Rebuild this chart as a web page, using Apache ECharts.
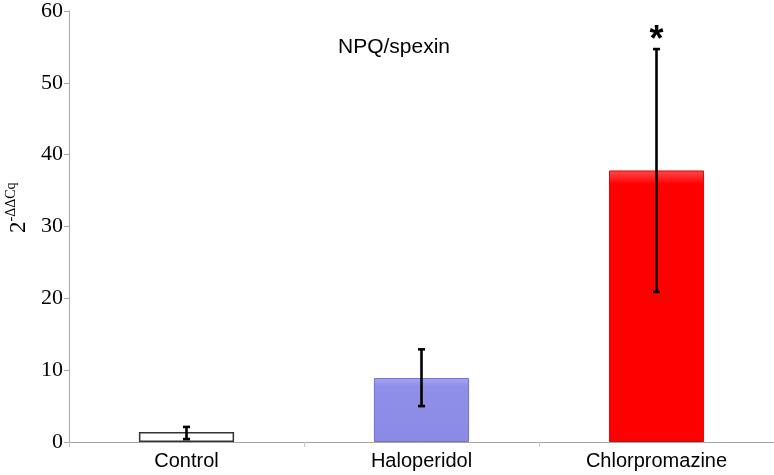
<!DOCTYPE html>
<html>
<head>
<meta charset="utf-8">
<script src="https://cdn.jsdelivr.net/npm/echarts@6/dist/echarts.min.js"></script>
<style>html,body{margin:0;padding:0;background:#fff;}#c{width:774px;height:475px;}</style>
</head>
<body>
<div id="c"></div>
<script>
const categories = ['Control', 'Haloperidol', 'Chlorpromazine'];
const values = [1.4, 8.9, 37.8];
const errLow = [0.4, 5.0, 20.9];
const errHigh = [2.1, 12.9, 54.7];
const marks = ['', '', '*'];
const yTicks = [0, 10, 20, 30, 40, 50, 60];

const barStyles = [
  { color: '#ffffff', borderColor: '#333333', borderWidth: 1.5 },
  { color: new echarts.graphic.LinearGradient(0, 0, 0, 1, [
      { offset: 0, color: '#a9a9f2' }, { offset: 0.12, color: '#8f8fea' }, { offset: 1, color: '#8b8be6' }]),
    borderColor: '#7272c6', borderWidth: 1 },
  { color: new echarts.graphic.LinearGradient(0, 0, 0, 1, [
      { offset: 0, color: '#ff4a4a' }, { offset: 0.05, color: '#ff0000' }, { offset: 1, color: '#ff0000' }]),
    borderColor: '#e00000', borderWidth: 1 }
];

const chart = echarts.init(document.getElementById('c'), null, { renderer: 'canvas' });
chart.setOption({
  animation: false,
  backgroundColor: '#ffffff',
  title: {
    text: 'NPQ/spexin',
    left: 333, top: 32,
    textStyle: { fontFamily: 'Liberation Sans', fontSize: 21, fontWeight: 'normal', color: '#000' }
  },
  grid: { left: 69, right: 0, top: 10, bottom: 33, containLabel: false },
  xAxis: {
    type: 'category',
    data: categories,
    axisLine: { lineStyle: { color: '#a6a6a6', width: 1 } },
    axisTick: { show: true, length: 5, lineStyle: { color: '#c8c8c8' } },
    axisLabel: { fontFamily: 'Liberation Sans', fontSize: 20, color: '#000', margin: 9 }
  },
  yAxis: {
    type: 'value',
    min: yTicks[0], max: yTicks[yTicks.length - 1], interval: 10,
    axisLine: { show: true, lineStyle: { color: '#a6a6a6', width: 1 } },
    axisTick: { show: true, length: 5, lineStyle: { color: '#a6a6a6' } },
    splitLine: { show: false },
    axisLabel: { fontFamily: 'Liberation Serif', fontSize: 22, color: '#000', margin: 6 }
  },
  graphic: [{
    type: 'text',
    x: 4, y: 233,
    rotation: Math.PI / 2,
    style: {
      text: '{a|2}{b|-ΔΔCq}',
      rich: {
        a: { fontFamily: 'Liberation Serif', fontSize: 23, fill: '#000', lineHeight: 26, verticalAlign: 'bottom' },
        b: { fontFamily: 'Liberation Serif', fontSize: 14, fill: '#000', lineHeight: 26, verticalAlign: 'top' }
      },
      fill: '#000'
    }
  }],
  series: [
    {
      type: 'bar',
      barWidth: '40.5%',
      data: values.map((v, i) => ({ value: v, itemStyle: barStyles[i] })),
      z: 2
    },
    {
      type: 'custom',
      z: 3,
      data: categories.map((c, i) => [i, errLow[i], errHigh[i]]),
      renderItem: function (params, api) {
        const i = api.value(0);
        const lo = api.coord([i, api.value(1)]);
        const hi = api.coord([i, api.value(2)]);
        const cap = 3.5;
        const st = { stroke: '#000', lineWidth: 2.6 };
        const children = [
          { type: 'line', shape: { x1: lo[0], y1: lo[1], x2: hi[0], y2: hi[1] }, style: st },
          { type: 'line', shape: { x1: lo[0] - cap, y1: lo[1], x2: lo[0] + cap, y2: lo[1] }, style: st },
          { type: 'line', shape: { x1: hi[0] - cap, y1: hi[1], x2: hi[0] + cap, y2: hi[1] }, style: st }
        ];
        if (marks[i]) {
          children.push({
            type: 'text',
            style: {
              text: marks[i], x: hi[0], y: hi[1] + 10,
              align: 'center', verticalAlign: 'bottom',
              fontFamily: 'Liberation Sans', fontSize: 36, fontWeight: 'bold', fill: '#000'
            }
          });
        }
        return { type: 'group', children: children };
      }
    }
  ]
});
</script>
</body>
</html>
